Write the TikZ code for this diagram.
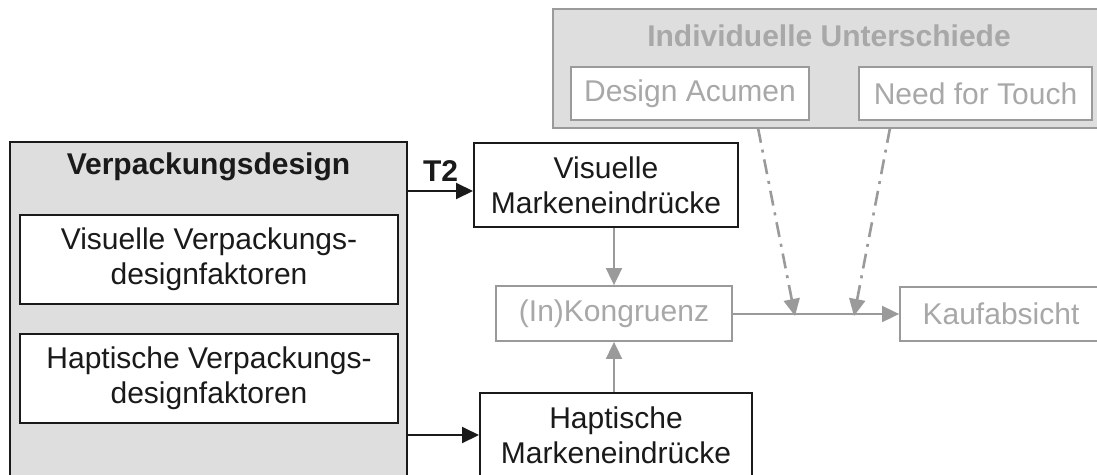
\documentclass[tikz,border=0pt]{standalone}
\usepackage{fontspec}
\setmainfont{Liberation Sans}
\usepackage{xcolor}
\usetikzlibrary{positioning, calc, arrows.meta}

\definecolor{panelgrey}{HTML}{DEDEDE}
\definecolor{linegrey}{HTML}{9A9A9A}
\definecolor{textgrey}{HTML}{A8A8A8}
\definecolor{inkblack}{HTML}{1A1A1A}

\begin{document}
\begin{tikzpicture}[x=1pt, y=-1pt,
        % Style definitions
        panel/.style={
            rectangle,
            fill=panelgrey,
            inner sep=0pt
        },
        block/.style={
            rectangle,
            draw=inkblack,
            line width=2pt,
            fill=white,
            inner sep=0pt,
            align=center,
            text=inkblack,
            font=\fontsize{30}{35}\selectfont
        },
        greyblock/.style={
            block,
            draw=linegrey,
            line width=1.8pt,
            text=textgrey
        },
        heading/.style={
            font=\fontsize{30}{35}\selectfont\bfseries
        },
        arrow/.style={
            -{Triangle[length=17pt, width=16pt]},
            line width=2pt,
            draw=inkblack
        },
        greyarrow/.style={
            -{Triangle[length=17pt, width=16pt]},
            line width=1.8pt,
            draw=linegrey
        },
        dasharrow/.style={
            greyarrow,
            line width=2.6pt,
            dash pattern=on 15pt off 7pt on 3pt off 7pt
        }
    ]

        \useasboundingbox (0,0) rectangle (1097,474);

        % ==========================================
        % Left panel: Verpackungsdesign
        % ==========================================
        \node (design) [panel, draw=inkblack, line width=2pt,
            minimum width=397pt, minimum height=352pt] at (208.5,318) {};
        \node (designtitle) [heading, text=inkblack] at (208.5,167) {Verpackungsdesign};

        \node (visfak) [block, minimum width=378pt, minimum height=89pt]
            at (209,259.5) {Visuelle Verpackungs-\\designfaktoren};
        \node (hapfak) [block, minimum width=378pt, minimum height=89pt]
            at (209,378.5) {Haptische Verpackungs-\\designfaktoren};

        % ==========================================
        % Top panel: Individuelle Unterschiede
        % ==========================================
        \node (indiv) [panel, draw=linegrey, line width=1.8pt,
            minimum width=549pt, minimum height=119pt] at (827.5,68.5) {};
        \node (indivtitle) [heading, text=textgrey] at (829,36) {Individuelle Unterschiede};

        \node (acumen) [greyblock, minimum width=238pt, minimum height=53pt]
            at (690,93.5) {Design Acumen};
        \node (touch) [greyblock, minimum width=233pt, minimum height=53pt]
            at (975.5,93.5) {Need for Touch};

        % ==========================================
        % Brand impressions, congruence and intention
        % ==========================================
        \node (vismark) [block, minimum width=264pt, minimum height=84pt]
            at (606,185) {Visuelle\\Markeneindrücke};
        \node (hapmark) [block, minimum width=272pt, minimum height=84pt]
            at (616,435) {Haptische\\Markeneindrücke};

        \node (kong) [greyblock, minimum width=236pt, minimum height=55pt]
            at (614,313.5) {(In)Kongruenz};
        \node (kauf) [greyblock, minimum width=202pt, minimum height=54pt]
            at (1001,314) {Kaufabsicht};

        % Moderator arrow ends
        \coordinate (acumenstart) at (758,128);
        \coordinate (touchstart) at (890,128);
        \coordinate (acumenend) at (795,316);
        \coordinate (touchend) at (854,316);

        % ==========================================
        % Connections / Arrows
        % ==========================================
        % Design to brand impressions
        \draw [arrow] (design.east |- 0,191) -- (vismark.west |- 0,191)
            node [midway, above=5pt, heading, text=inkblack] {T2};
        \draw [arrow] (design.east |- hapmark.west) -- (hapmark.west);

        % Impressions into congruence
        \draw [greyarrow] (vismark.south -| kong.north) -- (kong.north);
        \draw [greyarrow] (hapmark.north -| kong.south) -- (kong.south);

        % Congruence to purchase intention
        \draw [greyarrow] (kong.east |- kauf.west) -- (kauf.west);

        % Moderators
        \draw [dasharrow] (acumenstart) -- (acumenend);
        \draw [dasharrow] (touchstart) -- (touchend);

    \end{tikzpicture}
\end{document}
